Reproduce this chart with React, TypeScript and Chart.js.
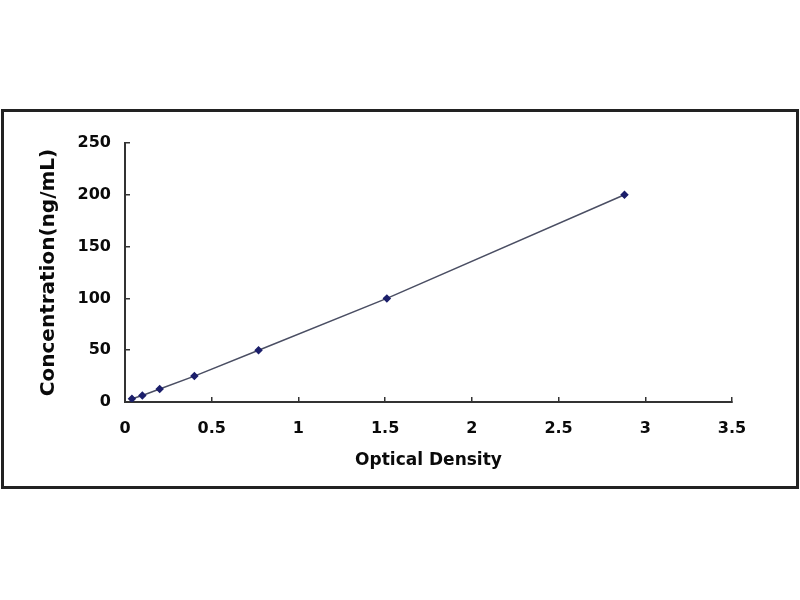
import { useEffect, useRef } from "react";
import { Chart, registerables } from "chart.js";

Chart.register(...registerables);

// standard curve: optical density vs. concentration (ng/mL)
const opticalDensity = [0.04, 0.1, 0.2, 0.4, 0.77, 1.51, 2.88];
const concentration = [3.12, 6.25, 12.5, 25, 50, 100, 200];

const xTitle = "Optical Density";
const yTitle = "Concentration(ng/mL)";

const FONT = "'DejaVu Sans', sans-serif";
const AXIS = "#333333";

export default function App() {
  const canvasRef = useRef<HTMLCanvasElement>(null);

  useEffect(() => {
    if (!canvasRef.current) return;

    const chart = new Chart(canvasRef.current, {
      type: "scatter",
      data: {
        datasets: [
          {
            label: yTitle,
            data: opticalDensity.map((x, i) => ({ x, y: concentration[i] })),
            showLine: true,
            borderColor: "#4a4e63",
            borderWidth: 1.5,
            pointStyle: "rectRot",
            pointRadius: 3.2,
            pointBackgroundColor: "#1c1f6b",
            pointBorderColor: "#1c1f6b",
          },
        ],
      },
      options: {
        animation: false,
        responsive: false,
        devicePixelRatio: 1,
        layout: { padding: { left: 33, top: 143, right: 68, bottom: 125 } },
        plugins: { legend: { display: false }, tooltip: { enabled: false } },
        scales: {
          x: {
            type: "linear",
            min: 0,
            max: 3.5,
            afterFit: (s) => {
              s.height = 73;
            },
            ticks: {
              stepSize: 0.5,
              padding: 22,
              color: "#0a0a0a",
              font: { family: FONT, size: 16, weight: "bold" },
              callback: (v) => String(v),
            },
            grid: { drawOnChartArea: false, tickLength: -5, color: AXIS, lineWidth: 1.5 },
            border: { color: AXIS, width: 2 },
            title: {
              display: true,
              text: xTitle,
              color: "#0a0a0a",
              font: { family: FONT, size: 17, weight: "bold" },
            },
          },
          y: {
            type: "linear",
            min: 0,
            max: 250,
            afterFit: (s) => {
              s.width = 125 - 33;
            },
            ticks: {
              stepSize: 50,
              padding: 19,
              color: "#0a0a0a",
              font: { family: FONT, size: 16, weight: "bold" },
            },
            grid: { drawOnChartArea: false, tickLength: -5, color: AXIS, lineWidth: 1.5 },
            border: { color: AXIS, width: 2 },
            title: {
              display: true,
              text: yTitle,
              color: "#0a0a0a",
              font: { family: FONT, size: 20, weight: "bold" },
            },
          },
        },
      },
    });

    return () => {
      chart.destroy();
    };
  }, []);

  return (
    <div style={{ position: "fixed", left: 0, top: 0, width: 800, height: 600, background: "#fff" }}>
      <div
        style={{
          position: "absolute",
          left: 1,
          top: 109,
          width: 798,
          height: 380,
          boxSizing: "border-box",
          border: "3px solid #222",
        }}
      />
      <canvas
        ref={canvasRef}
        width={800}
        height={600}
        style={{ position: "absolute", left: 0, top: 0, width: 800, height: 600 }}
      />
    </div>
  );
}
